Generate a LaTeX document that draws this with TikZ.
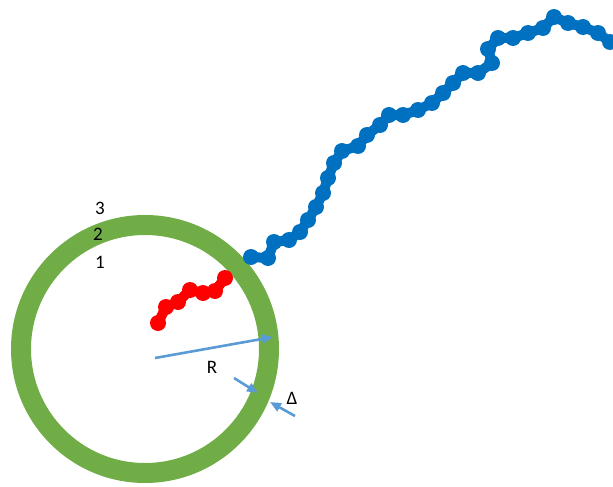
\documentclass[tikz,border=0pt]{standalone}
\usepackage{fontspec}
\setmainfont{Carlito}
\usetikzlibrary{arrows.meta}

\definecolor{ringgreen}{HTML}{70AD47}
\definecolor{walkblue}{HTML}{0070C0}
\definecolor{walkred}{HTML}{FF0000}
\definecolor{arrowblue}{HTML}{5B9BD5}

\begin{document}
\begin{tikzpicture}[
        x=1pt, y=-1pt,
        ring/.style={draw=ringgreen, line width=20pt},
        bluelink/.style={draw=walkblue, line width=10pt},
        redlink/.style={draw=walkred, line width=10pt},
        bluedot/.style={fill=walkblue},
        reddot/.style={fill=walkred},
        arrow/.style={draw=arrowblue, line width=2.6pt, -{Triangle[length=11pt, width=9pt]}},
        label/.style={font=\fontsize{19}{22}\selectfont, inner sep=0pt}
    ]
    \useasboundingbox (0,0) rectangle (613,487);

    % Ring
    \coordinate (c) at (145,349);
    \draw[ring] (c) circle (124pt);

    % Walk outside (blue)
    \foreach \x/\y [count=\i] in {251/257, 268/258, 274/242, 289/240, 300/232,
            308/220, 316/207, 323/193, 328/178, 334/163, 342/151, 358/146,
            367/135, 380/125, 389/115, 403/115, 418/110, 432/103, 443/93,
            453/83, 463/73, 478/73, 492/63, 488/49, 498/38, 513/38, 528/33,
            543/28, 554/17, 568/23, 583/27, 598/33, 610/42}
        \coordinate (b\i) at (\x,\y);
    \draw[bluelink] (b1) \foreach \i in {2,...,33} {-- (b\i)};
    \foreach \i in {1,...,33} \fill[bluedot] (b\i) circle (8pt);

    % Walk inside (red)
    \foreach \x/\y [count=\i] in {158/323, 166/307, 178/302, 190/290,
            203/293, 215/291, 225/278}
        \coordinate (r\i) at (\x,\y);
    \draw[redlink] (r1) \foreach \i in {2,...,7} {-- (r\i)};
    \foreach \i in {1,...,7} \fill[reddot] (r\i) circle (8pt);

    % Radius and width arrows
    \coordinate (rs) at (155,358);
    \coordinate (re) at (273,337);
    \draw[arrow] (rs) -- (re);
    \coordinate (d1s) at (234,378);
    \coordinate (d1e) at (258,393);
    \draw[arrow] (d1s) -- (d1e);
    \coordinate (d2s) at (295,416);
    \coordinate (d2e) at (270,402);
    \draw[arrow] (d2s) -- (d2e);

    % Labels
    \node[label] (three) at (100,208) {3};
    \node[label] (two) at (98,234) {2};
    \node[label] (one) at (100,262) {1};
    \node[label] (rlab) at (212,367) {R};
    \node[label] (dlab) at (292,398) {Δ};

\end{tikzpicture}
\end{document}
